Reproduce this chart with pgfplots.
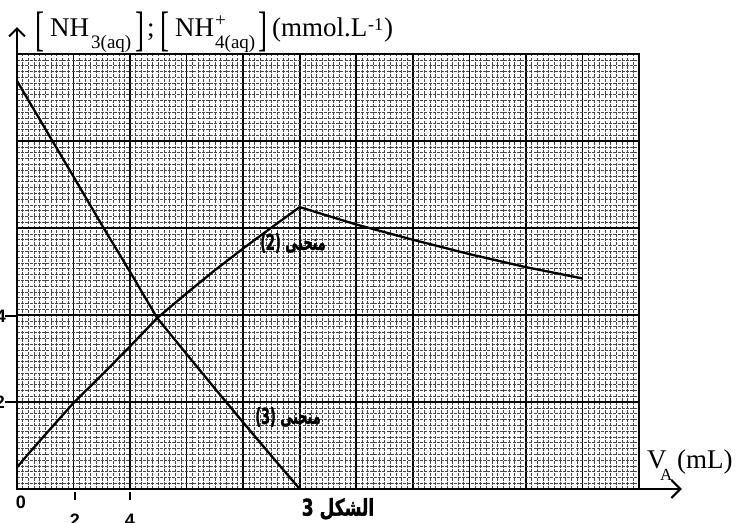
\documentclass[border=0pt]{standalone}
\usepackage{graphicx}
\usepackage{fontspec}
\setmainfont{Liberation Serif}
\newfontfamily\arial{Liberation Sans}
\newfontfamily\arabicfont[Script=Arabic,BoldFeatures={FakeBold=1.5}]{DejaVu Sans}
\usepackage{pgfplots}
\pgfplotsset{compat=1.18}
\usetikzlibrary{arrows.meta}
\TeXXeTstate=1
\newcommand{\bk}[1]{\raisebox{-8.5pt}{\scalebox{1}[1.79]{#1}}}
\begin{document}
\begin{tikzpicture}
\begin{axis}[
  at={(0pt,0pt)}, anchor=south west,
  scale only axis, width=622pt, height=435pt,
  xmin=0, xmax=22, ymin=0, ymax=10,
  xtick={0,2,...,22}, ytick={0,2,...,10},
  minor x tick num=9, minor y tick num=14,
  grid=both,
  major grid style={black, line width=1.6pt},
  minor grid style={black!72, line width=0.5pt, dash pattern=on 3pt off 1.2pt},
  xticklabels={}, yticklabels={},
  tick style={draw=none},
  axis line style={black, line width=1.2pt},
  clip=false,
]
% curve (3): NH3
\addplot[black, line width=2.3pt] coordinates {
(0,9.38) (1,8.28) (2,7.18) (3,6.07) (4,4.99) (4.96,3.93) (6,3.1) (7,2.31) (8,1.53) (9,0.76) (10,0)
};
% curve (2): NH4+
\addplot[black, line width=2.3pt] coordinates {
(0,0.5) (0.5,0.88) (1,1.25) (2,1.98) (3,2.62) (4,3.28) (4.96,3.93) (6,4.5) (7,5.03) (8,5.53) (9,6.01) (10,6.48)
(12,6.08) (14,5.73) (16,5.4) (18,5.1) (20,4.84)
};
\draw[line width=2.6pt, -{Straight Barb[length=9pt,width=18pt,line width=2.2pt]}] (axis cs:0,0) -- (axis cs:23.52,0);
\draw[line width=2.2pt, -{Straight Barb[length=8pt,width=16pt,line width=2pt]}] (axis cs:0,0) -- (axis cs:0,10.62);
\end{axis}
% y label, piece by piece
\begin{scope}[every node/.style={anchor=base west, inner sep=0pt, font=\fontsize{27}{30}\selectfont}]
\node at (18pt,452pt) {\bk{[}};
\node at (33pt,452pt) {NH};
\node[font=\fontsize{19}{19}\selectfont] at (74pt,440pt) {3(aq)};
\node at (118pt,452pt) {\bk{]}};
\node at (130pt,452pt) {;};
\node at (143pt,452pt) {\bk{[}};
\node at (158pt,452pt) {NH};
\node[font=\fontsize{19}{19}\selectfont] at (198pt,462pt) {+};
\node[font=\fontsize{19}{19}\selectfont] at (198pt,440pt) {4(aq)};
\node at (241pt,452pt) {\bk{]}};
\node at (255pt,452pt) {(mmol.L};
\node[font=\fontsize{18}{18}\selectfont] at (351pt,458pt) {-1};
\node at (367pt,452pt) {)};
% x label
\node at (630pt,21pt) {V};
\node[font=\fontsize{17}{17}\selectfont] at (643pt,9pt) {A};
\node at (660pt,21pt) {(mL)};
\end{scope}
% arabic labels
\node[inner sep=0pt, font=\fontsize{22}{24}\selectfont\bfseries] at (276pt,246pt)
  {\scalebox{0.58}[1]{\arabicfont (2) \beginR منحنى\endR}};
\node[inner sep=0pt, font=\fontsize{22}{24}\selectfont\bfseries] at (271pt,72pt)
  {\scalebox{0.58}[1]{\arabicfont (3) \beginR منحنى\endR}};
\node[inner sep=0pt, font=\fontsize{23}{25}\selectfont\bfseries] at (321pt,-20pt)
  {\scalebox{0.74}[1]{\arabicfont 3 \beginR الشكل\endR}};
% tick labels
\begin{scope}[every node/.style={inner sep=0pt, font=\arial\bfseries\fontsize{18}{20}\selectfont}]
\node at (4pt,-13pt) {0};
\node at (58pt,-31pt) {2};
\node at (113pt,-31pt) {4};
\node at (-17pt,87pt) {2};
\node at (-16pt,173pt) {4};
\end{scope}
\draw[line width=1.2pt] (58pt,-3pt) -- (58pt,-11pt);
\draw[line width=1.2pt] (113pt,-3pt) -- (113pt,-11pt);
\draw[line width=1.2pt] (-12pt,87pt) -- (0pt,87pt);
\draw[line width=1.2pt] (-12pt,173pt) -- (0pt,173pt);
\pgfresetboundingbox
\path (-17pt,-33pt) rectangle (724pt,489pt);
\end{tikzpicture}
\end{document}
